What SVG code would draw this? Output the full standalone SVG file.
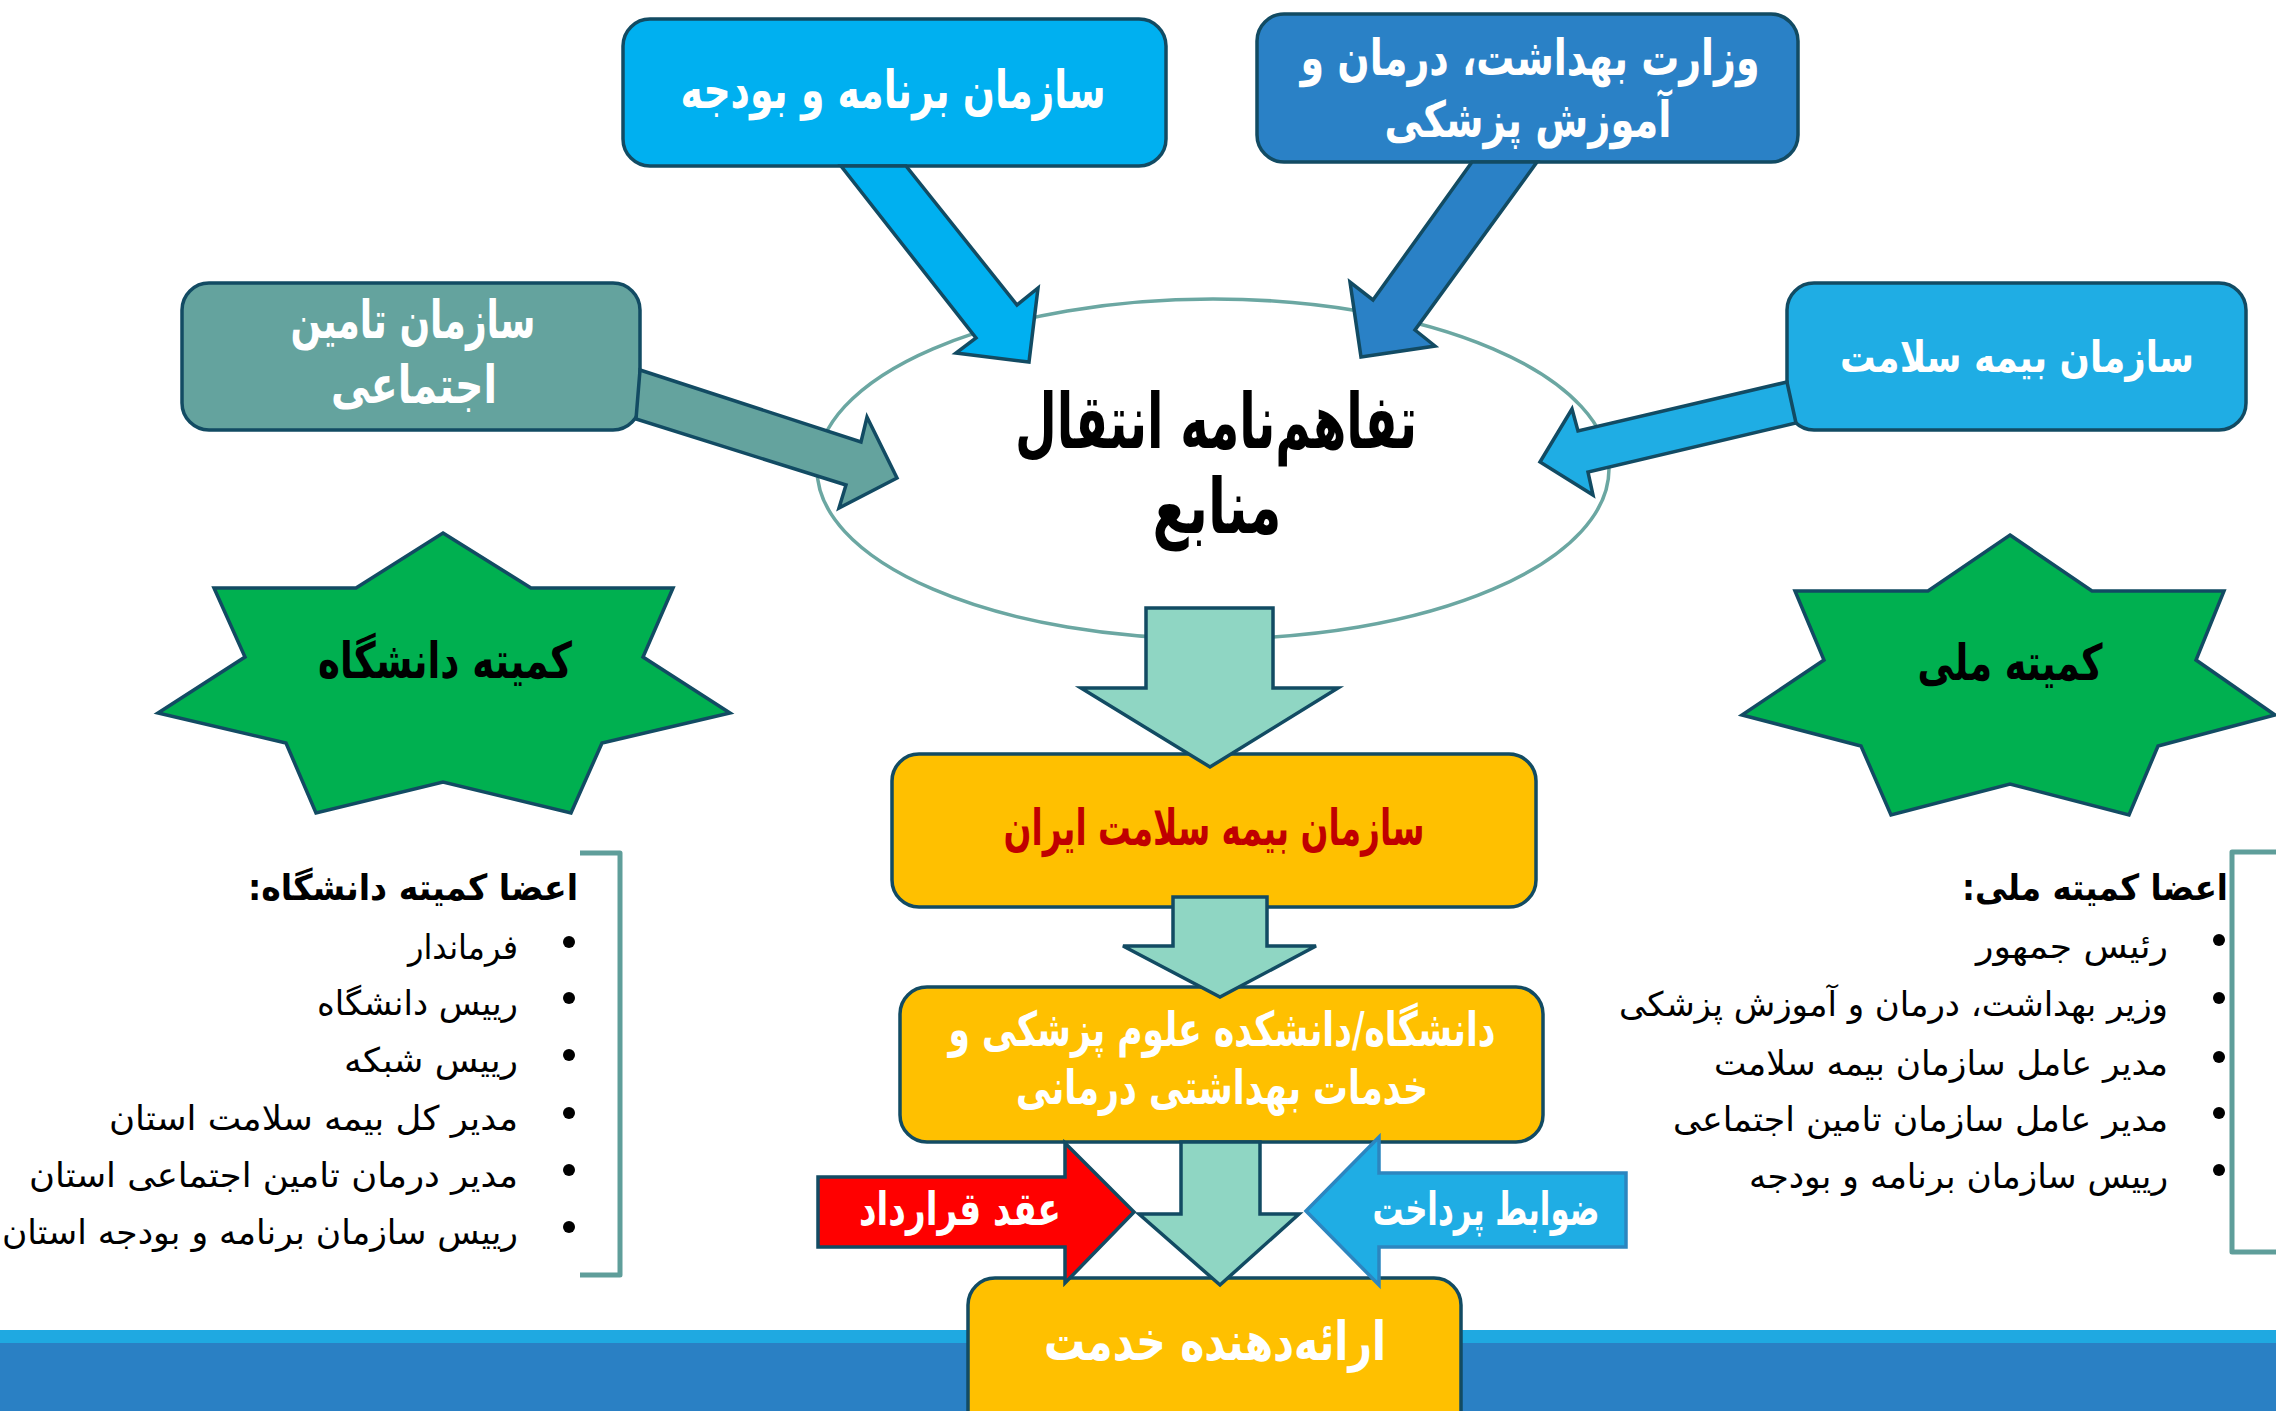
<svg xmlns="http://www.w3.org/2000/svg" width="2276" height="1411" viewBox="0 0 2276 1411">
<style>
.box{stroke:#124B63;stroke-width:3.5}
.arr{stroke:#124B63;stroke-width:3.5;stroke-linejoin:miter}
.t{font-family:"DejaVu Sans",sans-serif;font-weight:bold;direction:rtl;unicode-bidi:embed;text-anchor:middle}
.w{fill:#FFFFFF}
.k{fill:#000000}
.li{font-family:"DejaVu Sans",sans-serif;font-size:34px;fill:#000;direction:rtl;unicode-bidi:embed;text-anchor:start}
.lh{font-family:"DejaVu Sans",sans-serif;font-weight:bold;font-size:36px;fill:#000;direction:rtl;unicode-bidi:embed;text-anchor:start}
.brk{fill:none;stroke:#5F9E9A;stroke-width:5;stroke-linejoin:round}
.star{fill:#00B050;stroke:#124B63;stroke-width:3.5}
</style>
<rect x="0" y="1330" width="2276" height="14" fill="#1FA9E1"/>
<rect x="0" y="1343" width="2276" height="68" fill="#2A80C4"/>
<g id="ellipse-node">
<ellipse cx="1213" cy="469" rx="396" ry="170" fill="#FFFFFF" stroke="#6BA7A2" stroke-width="3.5"/>
<text class="t k" x="1216" y="448" font-size="76" textLength="402" lengthAdjust="spacingAndGlyphs">تفاهم‌نامه انتقال</text>
<text class="t k" x="1217" y="533" font-size="76" textLength="129" lengthAdjust="spacingAndGlyphs">منابع</text>
</g>
<g id="node-barnameh">
<rect class="box" x="623" y="19" width="543" height="147" rx="27" fill="#00B0F0"/>
<text class="t w" x="893" y="108" font-size="52" textLength="425" lengthAdjust="spacingAndGlyphs">سازمان برنامه و بودجه</text>
</g>
<g id="node-vezarat">
<rect class="box" x="1257" y="14" width="541" height="148" rx="27" fill="#2A81C6"/>
<text class="t w" x="1530" y="75" font-size="50" textLength="459" lengthAdjust="spacingAndGlyphs">وزارت بهداشت، درمان و</text>
<text class="t w" x="1528" y="137" font-size="50" textLength="287" lengthAdjust="spacingAndGlyphs">آموزش پزشکی</text>
</g>
<g id="node-tamin">
<rect class="box" x="182" y="283" width="458" height="147" rx="27" fill="#64A39E"/>
<text class="t w" x="413" y="338" font-size="52" textLength="245" lengthAdjust="spacingAndGlyphs">سازمان تامین</text>
<text class="t w" x="414" y="403" font-size="52" textLength="166" lengthAdjust="spacingAndGlyphs">اجتماعی</text>
</g>
<g id="node-bimeh">
<rect class="box" x="1787" y="283" width="459" height="147" rx="27" fill="#1FADE4"/>
<text class="t w" x="2017" y="372" font-size="43" textLength="354" lengthAdjust="spacingAndGlyphs">سازمان بیمه سلامت</text>
</g>
<g id="node-star-daneshgah">
<polygon class="star" points="443,533 531,588 673,588 643,657 730,713 602,743 571,813 443,782 316,813 286,743 158,713 245,657 214,588 356,588"/>
<text class="t k" x="445" y="678" font-size="50" textLength="254" lengthAdjust="spacingAndGlyphs">کمیته دانشگاه</text>
</g>
<g id="node-star-melli">
<polygon class="star" points="2010,535 2092,591 2224,591 2196,660 2275,715 2158,746 2129,815 2010,784 1891,815 1861,746 1742,715 1824,660 1795,591 1928,591"/>
<text class="t k" x="2010" y="680" font-size="50" textLength="185" lengthAdjust="spacingAndGlyphs">کمیته ملی</text>
</g>
<g id="node-bimeh-iran">
<rect class="box" x="892" y="754" width="644" height="153" rx="27" fill="#FFC000"/>
<text class="t" x="1214" y="845" font-size="50" fill="#C00000" textLength="421" lengthAdjust="spacingAndGlyphs">سازمان بیمه سلامت ایران</text>
</g>
<g id="node-daneshgah">
<rect class="box" x="900" y="987" width="643" height="155" rx="27" fill="#FFC000"/>
<text class="t w" x="1222" y="1046" font-size="48" textLength="547" lengthAdjust="spacingAndGlyphs">دانشگاه/دانشکده علوم پزشکی و</text>
<text class="t w" x="1222" y="1104" font-size="48" textLength="412" lengthAdjust="spacingAndGlyphs">خدمات بهداشتی درمانی</text>
</g>
<g id="node-provider">
<rect class="box" x="968" y="1278" width="493" height="160" rx="27" fill="#FFC000"/>
<text class="t w" x="1215" y="1360" font-size="54" textLength="342" lengthAdjust="spacingAndGlyphs">ارائه‌دهنده خدمت</text>
</g>
<g id="list-daneshgah">
<path class="brk" d="M580,853 L620,853 L620,1275 L580,1275"/>
<text class="lh" x="578" y="900" textLength="330" lengthAdjust="spacingAndGlyphs">اعضا کمیته دانشگاه:</text>
<g fill="#000"><circle cx="569" cy="942" r="6"/><circle cx="569" cy="998" r="6"/><circle cx="569" cy="1055" r="6"/><circle cx="569" cy="1113" r="6"/><circle cx="569" cy="1170" r="6"/><circle cx="569" cy="1227" r="6"/></g>
<text class="li" x="518" y="959" textLength="110" lengthAdjust="spacingAndGlyphs">فرماندار</text>
<text class="li" x="518" y="1015" textLength="201" lengthAdjust="spacingAndGlyphs">رییس دانشگاه</text>
<text class="li" x="518" y="1072" textLength="174" lengthAdjust="spacingAndGlyphs">رییس شبکه</text>
<text class="li" x="518" y="1130" textLength="409" lengthAdjust="spacingAndGlyphs">مدیر کل بیمه سلامت استان</text>
<text class="li" x="518" y="1187" textLength="489" lengthAdjust="spacingAndGlyphs">مدیر درمان تامین اجتماعی استان</text>
<text class="li" x="518" y="1244" textLength="516" lengthAdjust="spacingAndGlyphs">رییس سازمان برنامه و بودجه استان</text>
</g>
<g id="list-melli">
<path class="brk" d="M2278,852 L2232,852 L2232,1252 L2278,1252"/>
<text class="lh" x="2228" y="900" textLength="266" lengthAdjust="spacingAndGlyphs">اعضا کمیته ملی:</text>
<g fill="#000"><circle cx="2219" cy="940" r="6"/><circle cx="2219" cy="998" r="6"/><circle cx="2219" cy="1057" r="6"/><circle cx="2219" cy="1113" r="6"/><circle cx="2219" cy="1170" r="6"/></g>
<text class="li" x="2168" y="958" textLength="192" lengthAdjust="spacingAndGlyphs">رئیس جمهور</text>
<text class="li" x="2168" y="1016" textLength="549" lengthAdjust="spacingAndGlyphs">وزیر بهداشت، درمان و آموزش پزشکی</text>
<text class="li" x="2168" y="1075" textLength="454" lengthAdjust="spacingAndGlyphs">مدیر عامل سازمان بیمه سلامت</text>
<text class="li" x="2168" y="1131" textLength="495" lengthAdjust="spacingAndGlyphs">مدیر عامل سازمان تامین اجتماعی</text>
<text class="li" x="2168" y="1188" textLength="419" lengthAdjust="spacingAndGlyphs">رییس سازمان برنامه و بودجه</text>
</g>
<g id="connectors">
<polygon class="arr" fill="#00B0F0" points="841,166 906,166 1017,305 1038,288 1029,362 956,353 976,338"/>
<polygon class="arr" fill="#2A81C6" points="1472,162 1537,162 1415,330 1435,346 1361,357 1350,282 1373,300"/>
<polygon class="arr" fill="#64A39E" points="640,370 861,442 867,417 897,478 839,508 846,485 636,419"/>
<polygon class="arr" fill="#1FADE4" points="1787,382 1578,431 1572,409 1540,462 1593,495 1588,472 1796,423"/>
<polygon class="arr" fill="#8FD6C3" points="1146,608 1273,608 1273,688 1338,688 1210,767 1081,688 1146,688"/>
<polygon class="arr" fill="#8FD6C3" points="1173,897 1267,897 1267,946 1316,946 1220,997 1123,946 1173,946"/>
<polygon class="arr" fill="#8FD6C3" points="1181,1142 1260,1142 1260,1214 1299,1214 1220,1285 1139,1214 1181,1214"/>
<g id="arrow-gharardad">
<polygon class="arr" fill="#FF0000" points="818,1177 1065,1177 1065,1143 1134,1212 1065,1283 1065,1247 818,1247"/>
<text class="t w" x="960" y="1225" font-size="46" textLength="202" lengthAdjust="spacingAndGlyphs">عقد قرارداد</text>
</g>
<g id="arrow-zavabet">
<polygon fill="#1FADE4" stroke="#2C86C0" stroke-width="3.5" points="1626,1173 1379,1173 1379,1137 1306,1211 1379,1285 1379,1247 1626,1247"/>
<text class="t w" x="1486" y="1225" font-size="46" textLength="227" lengthAdjust="spacingAndGlyphs">ضوابط پرداخت</text>
</g>
</g>
</svg>
